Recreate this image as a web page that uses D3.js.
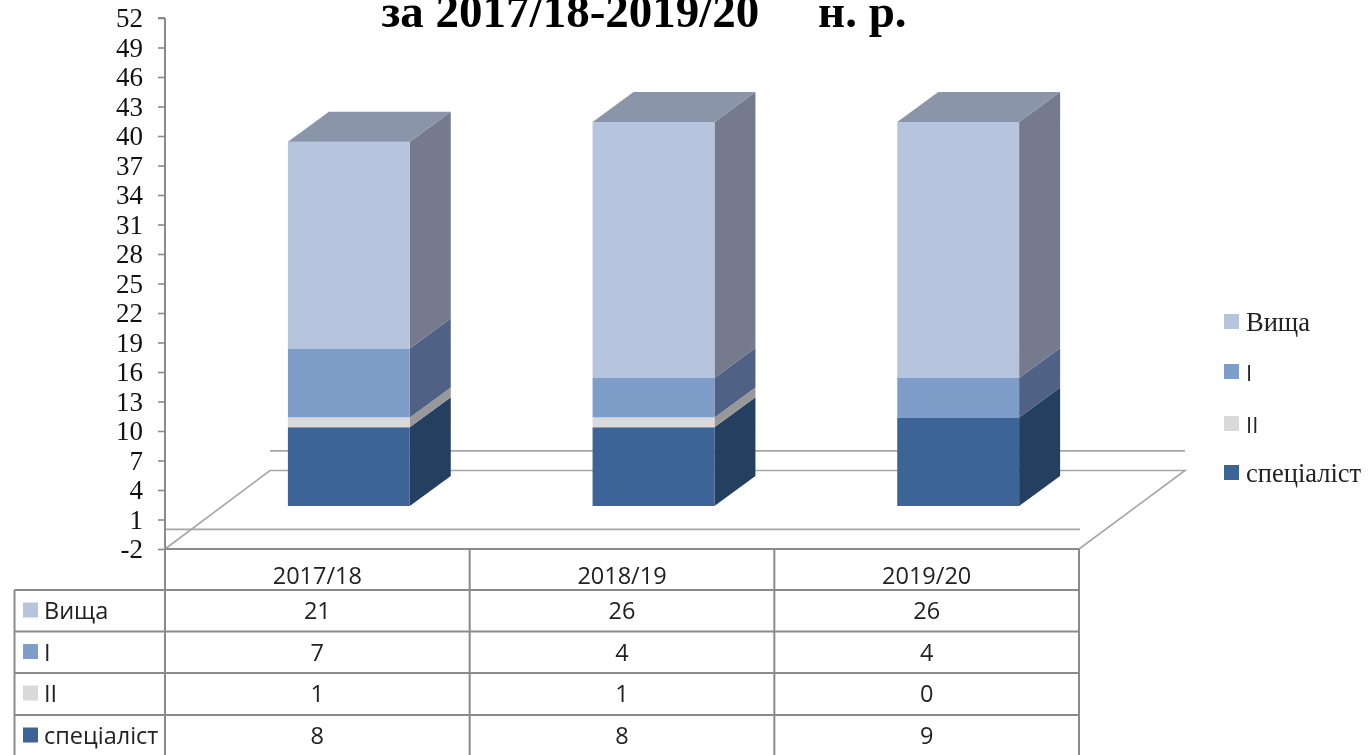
<!DOCTYPE html>
<html>
<head>
<meta charset="utf-8">
<script src="https://cdnjs.cloudflare.com/ajax/libs/d3/7.9.0/d3.min.js"></script>
<style>
html,body{margin:0;padding:0;background:#fff;overflow:hidden}
svg{display:block;filter:blur(0.45px)}
text{white-space:pre}
</style>
</head>
<body>
<svg id="c" width="1369" height="755"></svg>
<script>
const categories = ["2017/18", "2018/19", "2019/20"];
const seriesNames = ["спеціаліст", "II", "I", "Вища"];
const spec = [8, 8, 9];
const second = [1, 1, 0];
const first = [7, 4, 4];
const vyshcha = [21, 26, 26];
const yTicks = [-2, 1, 4, 7, 10, 13, 16, 19, 22, 25, 28, 31, 34, 37, 40, 43, 46, 49, 52];
const titleText = "за 2017/18-2019/20     н. р.";

const frontColors = ["#3C6496", "#D9D9D9", "#7F9DC9", "#B7C4DE"];
const sideColors  = ["#243F60", "#989898", "#4F6185", "#757B8C"];
const topColor = "#8A95A9";
const lineColor = "#8A8A8A";
const serif = "'Liberation Serif', serif";
const sans = "'Open Sans', 'Noto Sans', sans-serif";

const svg = d3.select("#c");
const series = [spec, second, first, vyshcha];
const table = categories.map((c, i) => {
  const row = {cat: c};
  seriesNames.forEach((s, k) => row[s] = series[k][i]);
  return row;
});
const stacked = d3.stack().keys(seriesNames)(table);

const y = d3.scaleLinear().domain([-2, 52]).range([549, 18]);
const yBar = d3.scaleLinear().domain([0, 39]).range([506, 122]);
const x = d3.scaleBand().domain(categories).range([165, 1079]);
const barW = x.bandwidth() * 0.4;
const barOff = 31.5 - barW / 2;
const barX = c => x(c) + x.bandwidth() / 2 + barOff;
const depth = {x: 105, y: -78.5};
const bd = {x: 41, y: -30};

// floor and back gridlines
const floor = svg.append("g").attr("fill", "none").attr("stroke", "#A6A6A6").attr("stroke-width", 1.6);
const line = d3.line();
floor.append("path").attr("d", line([
  [x.range()[0], y(-2)],
  [x.range()[0] + depth.x, y(-2) + depth.y],
  [x.range()[1] + depth.x + 1, y(-2) + depth.y],
  [x.range()[1], y(-2)]
]));
floor.append("path").attr("d", line([[x.range()[0], y(0)], [x.range()[1] + 1, y(0)]]));
floor.append("path").attr("d", line([
  [x.range()[0] + depth.x, y(0) + depth.y],
  [x.range()[1] + depth.x + 1, y(0) + depth.y]
]));

// bars
const bars = svg.append("g");
stacked.forEach((layer, k) => {
  layer.forEach((d, i) => {
    if (d[1] === d[0]) return;
    const c = categories[i], x0 = barX(c), x1 = x0 + barW;
    const yb = yBar(d[0]), yt = yBar(d[1]);
    bars.append("path").attr("fill", sideColors[k]).attr("d", line([
      [x1, yb], [x1 + bd.x, yb + bd.y], [x1 + bd.x, yt + bd.y], [x1, yt]
    ]) + "Z");
    bars.append("rect").attr("x", x0).attr("y", yt).attr("width", barW)
      .attr("height", yb - yt).attr("fill", frontColors[k]);
  });
});
table.forEach((row, i) => {
  const top = stacked[stacked.length - 1][i][1];
  const x0 = barX(row.cat), x1 = x0 + barW, yt = yBar(top);
  bars.append("path").attr("fill", topColor).attr("d", line([
    [x0, yt], [x0 + bd.x, yt + bd.y], [x1 + bd.x, yt + bd.y], [x1, yt]
  ]) + "Z");
});

// value axis
const axis = d3.axisLeft(y).tickValues(yTicks).tickSize(7).tickPadding(15).tickFormat(d => String(d));
const ga = svg.append("g").attr("transform", "translate(165,0)").call(axis);
ga.select(".domain").attr("stroke", lineColor).attr("stroke-width", 2).attr("d", `M0,${y(52)}V${y(-2)}M-7,${y(52)}H0`);
ga.selectAll(".tick line").attr("stroke", lineColor).attr("stroke-width", 1.6);
ga.selectAll("text").attr("font-family", serif).attr("font-size", 27).attr("fill", "#111");

// data table
const rowsTop = [590, 631.5, 673, 715];
const rowOrder = [3, 2, 1, 0];
const tableBottom = 756;
const tb = svg.append("g").attr("stroke", lineColor).attr("stroke-width", 2).attr("fill", "none");
const hl = (xa, xb, yy) => tb.append("line").attr("x1", xa).attr("x2", xb).attr("y1", yy).attr("y2", yy);
const vl = (xx, ya, yb) => tb.append("line").attr("x1", xx).attr("x2", xx).attr("y1", ya).attr("y2", yb);
hl(165, 1079, y(-2));
rowsTop.forEach(r => hl(14.5, 1079, r));
vl(14.5, rowsTop[0], tableBottom);
categories.forEach(c => vl(x(c), y(-2), tableBottom));
vl(1079, y(-2), tableBottom);

const cellText = (tx, ty, s, anchor, size) => svg.append("text").attr("x", tx).attr("y", ty)
  .attr("text-anchor", anchor).attr("font-family", sans).attr("font-size", size || 23.5).attr("fill", "#222").text(s);
categories.forEach(c => cellText(x(c) + x.bandwidth() / 2, 583.5, c, "middle"));
rowOrder.forEach((k, r) => {
  const ty = rowsTop[r] + 29;
  svg.append("rect").attr("x", 23).attr("y", rowsTop[r] + 12.5).attr("width", 15).attr("height", 15).attr("fill", frontColors[k]);
  cellText(44, ty, seriesNames[k], "start");
  categories.forEach((c, i) => cellText(x(c) + x.bandwidth() / 2, ty, series[k][i], "middle"));
});

// legend
const legY = [314, 364, 416, 465];
rowOrder.forEach((k, r) => {
  const isSerif = k === 3 || k === 0;
  svg.append("rect").attr("x", 1224).attr("y", legY[r]).attr("width", 15).attr("height", 15).attr("fill", frontColors[k]);
  svg.append("text").attr("x", 1246).attr("y", legY[r] + 16.5)
    .attr("font-family", isSerif ? serif : sans).attr("font-size", isSerif ? 26.5 : 22).attr("fill", "#222").text(seriesNames[k]);
});

// title (clipped by the top edge, as in the source)
svg.append("text").attr("x", 644).attr("y", 27).attr("text-anchor", "middle")
  .attr("font-family", serif).attr("font-weight", "bold").attr("font-size", 47).attr("fill", "#000").text(titleText);
</script>
</body>
</html>
